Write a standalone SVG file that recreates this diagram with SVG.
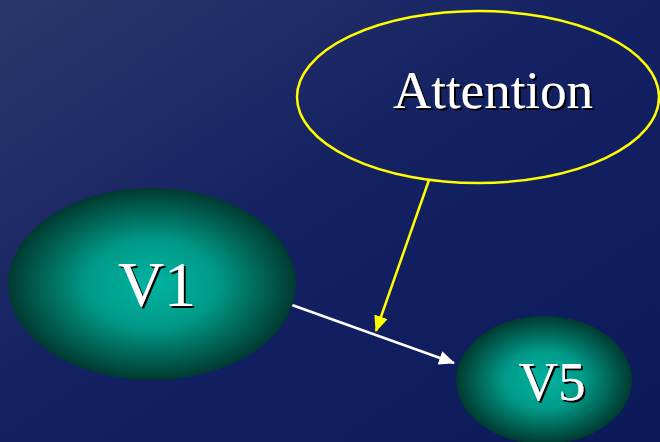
<svg xmlns="http://www.w3.org/2000/svg" width="660" height="442" viewBox="0 0 660 442">
<defs>
<linearGradient id="bg" x1="0" y1="0" x2="1" y2="1">
<stop offset="0" stop-color="#2a376b"/>
<stop offset="0.5" stop-color="#132062"/>
<stop offset="1" stop-color="#0c1a5a"/>
</linearGradient>
<radialGradient id="teal" cx="0.5" cy="0.5" r="0.5">
<stop offset="0" stop-color="#00b4a0"/>
<stop offset="0.45" stop-color="#009a88"/>
<stop offset="1" stop-color="#003a30"/>
</radialGradient>
<filter id="shadow" x="-10%" y="-10%" width="130%" height="130%">
<feDropShadow dx="2" dy="2" stdDeviation="0.4" flood-color="#000000" flood-opacity="1"/>
</filter>
<marker id="ahW" markerWidth="16" markerHeight="14" refX="15" refY="7" orient="auto" markerUnits="userSpaceOnUse" viewBox="0 0 16 14">
<path d="M0,0 L16,7 L0,14 Z" fill="#ffffff"/>
</marker>
<marker id="ahY" markerWidth="16" markerHeight="14" refX="15" refY="7" orient="auto" markerUnits="userSpaceOnUse" viewBox="0 0 16 14">
<path d="M0,0 L16,7 L0,14 Z" fill="#ffff00"/>
</marker>
<style>
.lbl{font-family:"Liberation Serif","Times New Roman",serif;fill:#ffffff;text-anchor:middle;filter:url(#shadow)}
.node{fill:url(#teal)}
</style>
</defs>
<rect width="660" height="442" fill="url(#bg)"/>
<g id="connectors">
<line x1="292" y1="305" x2="454" y2="363" stroke="#ffffff" stroke-width="2.5" marker-end="url(#ahW)"/>
<line x1="429" y1="180" x2="376" y2="331" stroke="#ffff00" stroke-width="2.5" marker-end="url(#ahY)"/>
</g>
<g id="attention">
<ellipse cx="478" cy="97" rx="181" ry="86" fill="none" stroke="#ffff00" stroke-width="2.5"/>
<text class="lbl" x="493" y="108" font-size="53">Attention</text>
</g>
<g id="v1">
<ellipse class="node" cx="152" cy="284" rx="144" ry="96"/>
<text class="lbl" x="157" y="306" font-size="64">V1</text>
</g>
<g id="v5">
<ellipse class="node" cx="544" cy="380" rx="88" ry="64"/>
<text class="lbl" x="552" y="400" font-size="55">V5</text>
</g>
</svg>
